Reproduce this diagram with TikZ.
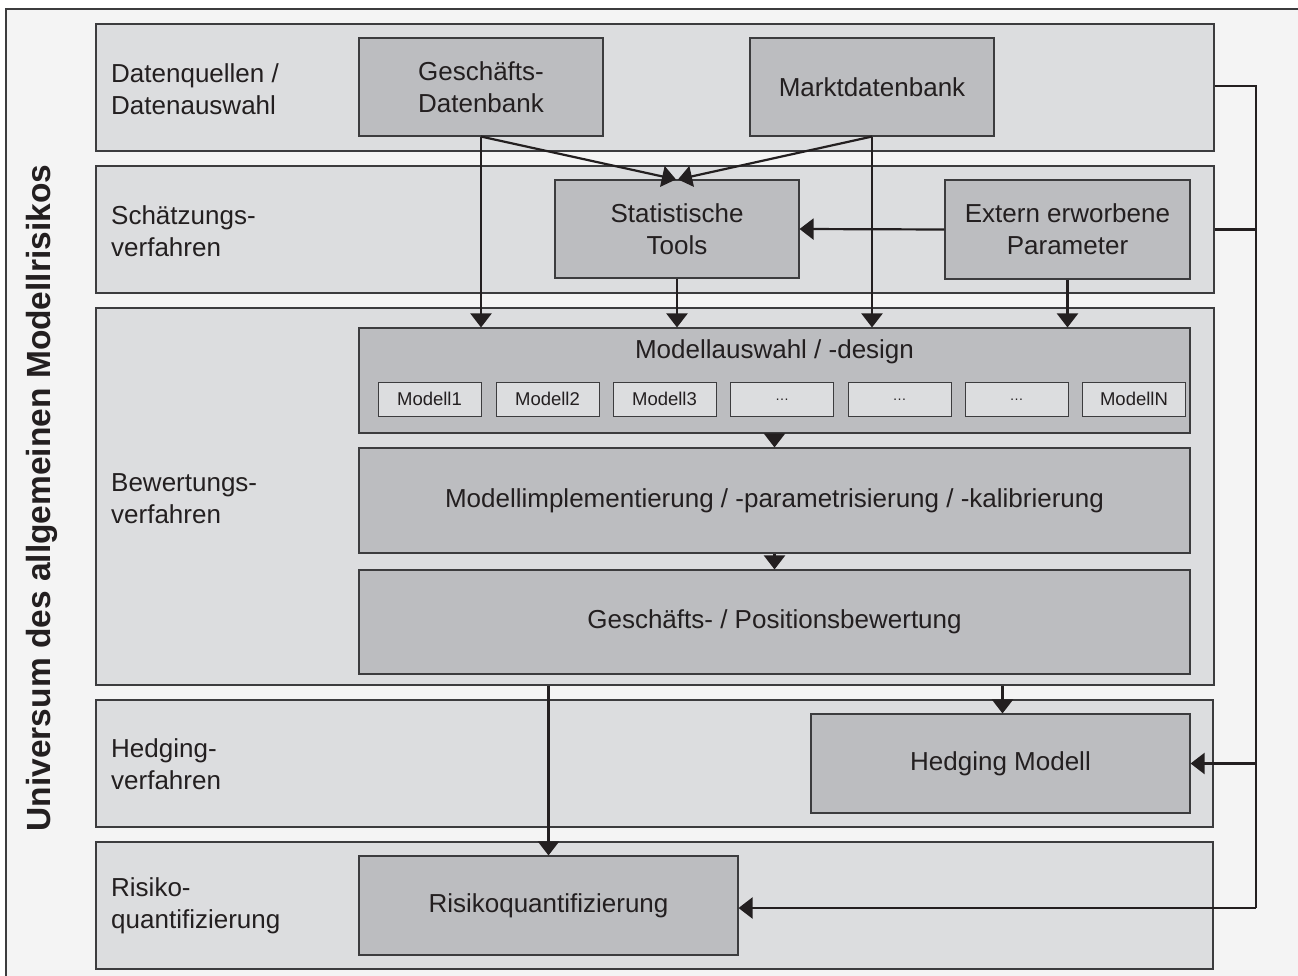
\documentclass[tikz,border=0pt]{standalone}
\usepackage{fontspec}
\setmainfont{Liberation Sans}
\usetikzlibrary{arrows.meta}
\definecolor{outerbg}{HTML}{F4F4F4}
\definecolor{bandfill}{HTML}{DCDDDF}
\definecolor{boxfill}{HTML}{BCBDC0}
\definecolor{edge}{HTML}{3C3C3E}
\definecolor{ink}{HTML}{231F20}
\tikzset{
  band/.style={draw=edge, line width=1.3pt, fill=bandfill, inner sep=0pt},
  box/.style={draw=edge, line width=1.1pt, fill=boxfill, inner sep=0pt, text=ink,
     font=\fontsize{26}{32}\selectfont, align=center},
  mbox/.style={draw=edge, line width=1pt, fill=bandfill, inner sep=0pt, text=ink,
     minimum width=103pt, minimum height=34pt, font=\fontsize{18.5}{20}\selectfont},
  lbl/.style={anchor=west, align=left, text=ink, inner sep=0pt, font=\fontsize{26}{32}\selectfont},
  conn/.style={draw=ink, line width=2.2pt},
  arr/.style={conn, -{Triangle[width=21pt,length=14pt]}},
}
\begin{document}
\begin{tikzpicture}[x=1pt,y=-1pt]
\useasboundingbox (0,0) rectangle (1298,976);
\fill[outerbg] (6,9) rectangle (1310,990);
\draw[edge, line width=1.4pt] (6,990) -- (6,9) -- (1310,9);

% bands
\node[band, minimum width=1118pt, minimum height=127pt] (b1) at (655,87.5) {};
\node[band, minimum width=1118pt, minimum height=127pt] (b2) at (655,229.5) {};
\node[band, minimum width=1118pt, minimum height=377pt] (b3) at (655,496.5) {};
\node[band, minimum width=1117pt, minimum height=127pt] (b4) at (654.5,763.5) {};
\node[band, minimum width=1117pt, minimum height=127pt] (b5) at (654.5,905.5) {};

% band labels
\node[lbl] (l1) at (111,89) {Datenquellen /\\Datenauswahl};
\node[lbl] (l2) at (111,231) {Schätzungs-\\verfahren};
\node[lbl] (l3) at (111,499) {Bewertungs-\\verfahren};
\node[lbl] (l4) at (111,764) {Hedging-\\verfahren};
\node[lbl] (l5) at (111,906) {Risiko-\\quantifizierung};

% title
\node[rotate=90, text=ink, font=\fontsize{33.5}{36}\selectfont\bfseries] (title) at (42,498) {Universum des allgemeinen Modellrisikos};

% boxes
\node[box, minimum width=244pt, minimum height=98pt] (gdb) at (481,87) {Geschäfts-\\Datenbank};
\node[box, minimum width=244pt, minimum height=98pt] (mdb) at (872,87) {Marktdatenbank};
\node[box, minimum width=244pt, minimum height=98pt] (stat) at (677,229) {Statistische\\Tools};
\node[box, minimum width=245pt, minimum height=99pt] (ext) at (1067.5,229.5) {Extern erworbene\\Parameter};
\node[box, minimum width=831pt, minimum height=105pt] (maus) at (774.5,380.5) {};
\node[text=ink, font=\fontsize{26}{32}\selectfont, inner sep=0pt] (maustxt) at (774.5,352) {Modellauswahl / -design};
\node[box, minimum width=831pt, minimum height=105pt] (mimpl) at (774.5,500.5) {Modellimplementierung / -parametrisierung / -kalibrierung};
\node[box, minimum width=831pt, minimum height=104pt] (gbew) at (774.5,622) {Geschäfts- / Positionsbewertung};
\node[box, minimum width=379pt, minimum height=99pt] (hedge) at (1000.5,763.5) {Hedging Modell};
\node[box, minimum width=379pt, minimum height=99pt] (risk) at (548.5,905.5) {Risikoquantifizierung};

% model boxes
\node[mbox] (m1) at (429.5,399) {Modell1};
\node[mbox] (m2) at (547.5,399) {Modell2};
\node[mbox] (m3) at (664.5,399) {Modell3};
\node[mbox] (m4) at (782,399) {\raisebox{-0.3ex}{\fontsize{14}{14}\selectfont\ldots}};
\node[mbox] (m5) at (899.5,399) {\raisebox{-0.3ex}{\fontsize{14}{14}\selectfont\ldots}};
\node[mbox] (m6) at (1016.5,399) {\raisebox{-0.3ex}{\fontsize{14}{14}\selectfont\ldots}};
\node[mbox] (m7) at (1134,399) {ModellN};

% arrows
\draw[arr] (gdb.south) -- (gdb.south |- maus.north);
\draw[arr] (mdb.south) -- (mdb.south |- maus.north);
\draw[arr] (gdb.south) -- ([xshift=-1pt]stat.north);
\draw[arr] (mdb.south) -- ([xshift=1pt]stat.north);
\draw[arr] (stat.south) -- (stat.south |- maus.north);
\draw[arr] (ext.south) -- (ext.south |- maus.north);
\draw[arr] (ext.west) -- (stat.east);
\draw[arr] (maus.south) -- (mimpl.north);
\draw[arr] (mimpl.south) -- (gbew.north);
\draw[arr] (b3.south -| risk.north) -- (risk.north);
\draw[arr] ([xshift=2pt]b3.south -| hedge.north) -- ([xshift=2pt]hedge.north);

% right connector
\coordinate (rc) at (1256,908);
\draw[conn] ([yshift=1.5pt]b1.east) -| (rc);
\draw[conn] (b2.east) -- (b2.east -| rc);
\draw[arr] (hedge.east -| rc) -- (hedge.east);
\draw[arr] (rc) -- (rc -| risk.east);
\end{tikzpicture}
\end{document}
